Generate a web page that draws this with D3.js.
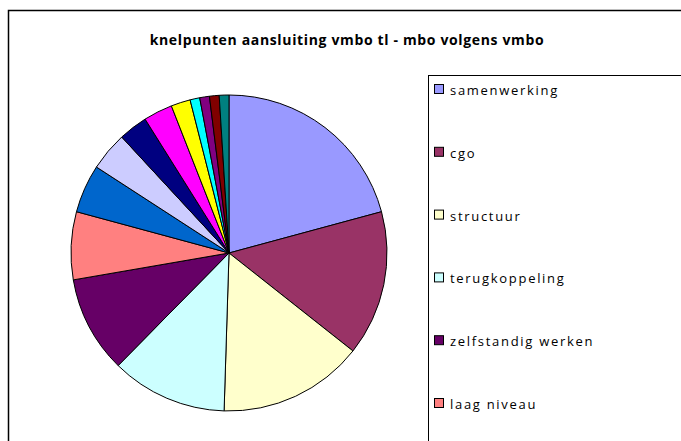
<!DOCTYPE html>
<html>

<head>
    <script type="text/javascript" src="https://d3js.org/d3.v7.min.js"></script>
    <style>
        body { margin: 0; background: #fff; }
    </style>
</head>

<body>
    <script>
        //size of the drawing area
        var width = 681;
        var height = 441;

        //slice values, clockwise from 12 o'clock
        var values = [21, 15, 15, 12, 10, 7, 5, 4, 3, 3, 2, 1, 1, 1, 1];
        //excel default palette used for the slices
        var colors = ['#9999FF', '#993366', '#FFFFCC', '#CCFFFF', '#660066', '#FF8080', '#0066CC', '#CCCCFF',
            '#000080', '#FF00FF', '#FFFF00', '#00FFFF', '#800080', '#800000', '#008080'];
        //only the first legend entries fit in the picture
        var legendLabels = ['samenwerking', 'cgo', 'structuur', 'terugkoppeling', 'zelfstandig werken', 'laag niveau'];
        var title = 'knelpunten aansluiting vmbo tl - mbo volgens vmbo';

        var svg = d3.select('body').append('svg').attr('width', width).attr('height', height);

        //outer chart frame, runs off the right and bottom edge
        svg.append('rect')
            .attr('x', 8.5).attr('y', 10.5)
            .attr('width', width).attr('height', height)
            .attr('fill', 'white').attr('stroke', 'black').attr('stroke-width', 1.5);

        svg.append('text')
            .attr('x', 347).attr('y', 45)
            .attr('text-anchor', 'middle')
            .attr('font-family', 'Open Sans, sans-serif')
            .attr('font-weight', 'bold')
            .attr('font-size', 14)
            .attr('letter-spacing', 0.65)
            .text(title);

        //pie
        var pie = d3.pie().sort(null).value(function(d) { return d; });
        var arc = d3.arc().innerRadius(0).outerRadius(158);

        var g = svg.append('g').attr('transform', 'translate(229,253)');
        g.selectAll('path')
            .data(pie(values))
            .enter()
            .append('path')
            .attr('d', arc)
            .attr('fill', function(d, i) { return colors[i]; })
            .attr('stroke', 'black')
            .attr('stroke-width', 1);

        //legend box
        svg.append('rect')
            .attr('x', 428.5).attr('y', 75.5)
            .attr('width', 300).attr('height', 400)
            .attr('fill', 'white').attr('stroke', 'black').attr('stroke-width', 1);

        var y = d3.scalePoint().domain(legendLabels).range([89, 403]);

        var item = svg.selectAll('.legend')
            .data(legendLabels)
            .enter()
            .append('g')
            .attr('class', 'legend')
            .attr('transform', function(d) { return 'translate(434,' + y(d) + ')'; });

        item.append('rect')
            .attr('x', 0.5).attr('y', -4.5)
            .attr('width', 9).attr('height', 9)
            .attr('fill', function(d, i) { return colors[i]; })
            .attr('stroke', 'black').attr('stroke-width', 1);

        item.append('text')
            .attr('x', 16).attr('y', 6)
            .attr('font-family', 'Open Sans, sans-serif')
            .attr('font-size', 13)
            .attr('letter-spacing', 1.7)
            .text(function(d) { return d; });
    </script>
</body>

</html>
